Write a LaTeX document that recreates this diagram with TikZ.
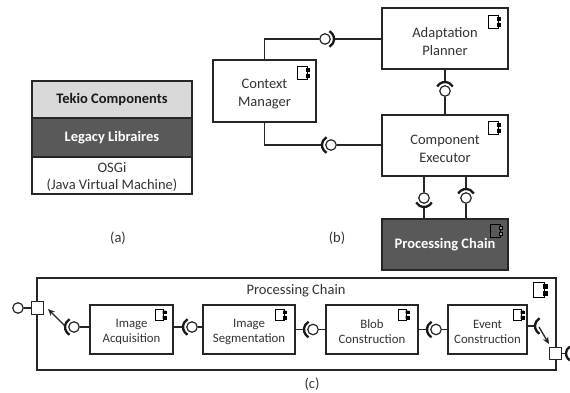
\documentclass[tikz,border=0pt]{standalone}
\usepackage{fontspec}
\usetikzlibrary{arrows.meta}
\setmainfont{Carlito}
\definecolor{darkbox}{HTML}{595959}
\definecolor{lightbox}{HTML}{D9D9D9}
\definecolor{inktext}{HTML}{333333}
\newcommand{\topgap}[1]{\rule{0pt}{#1pt}}
\tikzset{
  txt/.style={font=\fontsize{14.5}{17.5}\selectfont, text=inktext, align=center},
  smalltxt/.style={font=\fontsize{12.8}{15.7}\selectfont},
  boldtxt/.style={font=\fontsize{14.5}{17.5}\selectfont\bfseries},
  compbox/.style={txt, draw=black!85, line width=1.3pt, fill=white, inner sep=0pt},
  layerbox/.style={compbox, minimum width=160pt},
  stagebox/.style={compbox, smalltxt, minimum height=49pt},
  ball/.style={circle, draw=black!85, line width=1.2pt, fill=white, inner sep=0pt, minimum size=10.5pt},
  portbox/.style={draw=black!85, line width=1.2pt, fill=white, inner sep=0pt, minimum size=12.5pt},
  wire/.style={draw=black!85, line width=1.3pt},
  socket/.style={draw=black!90, line width=2.3pt},
  compicon/.pic={
    \draw [line width=1.1pt] (-4.8,-6.5) rectangle (4.8,6.5);
    \filldraw [line width=0.2pt, pic actions] (3.6,-4.8) rectangle (7,-1.6) (3.6,1) rectangle (7,4.2);
  },
}
\begin{document}
\begin{tikzpicture}[x=1pt,y=-1pt]
  \useasboundingbox (0,0) rectangle (570,393);
  % (a)
  \node [layerbox, fill=lightbox, minimum height=37pt, text=black!90, boldtxt] (tekio) at (112,99.5) {\raisebox{-2pt}{Tekio Components}};
  \node [layerbox, fill=darkbox, minimum height=39pt, text=white, boldtxt] (legacy) at (112,137.5) {\raisebox{-2pt}{Legacy Libraires}};
  \node [layerbox, minimum height=37pt] (osgi) at (112,175.5) {\topgap{13}OSGi\\(Java Virtual Machine)};
  \node [txt] (capa) at (118,238) {(a)};
  % (b)
  \node [compbox, minimum width=126pt, minimum height=61pt] (planner) at (445,38.5) {\topgap{16}Adaptation\\Planner};
  \node [compbox, minimum width=103pt, minimum height=62pt] (context) at (264.5,91) {\topgap{15.5}Context\\Manager};
  \node [compbox, minimum width=126pt, minimum height=61pt] (executor) at (445,145.5) {\topgap{16}Component\\Executor};
  \node [compbox, fill=darkbox, minimum width=126pt, minimum height=51pt, text=white, boldtxt] (chain) at (445,244.5) {\raisebox{-6pt}{Processing Chain}};
  \node [txt] (capb) at (337,238) {(b)};
  \pic at (493.5,22) {compicon};
  \pic at (302.5,73) {compicon};
  \pic at (493.5,128) {compicon};
  \pic [fill=darkbox!60!white] at (495.5,231) {compicon};

  \node [ball] (bcp) at (325,39) {};
  \coordinate (scp) at (334,39);
  \draw [wire] (context.north) |- (bcp);
  \draw [wire] (scp) -- (planner.west |- scp);
  \draw [socket] (bcp) ++(-60:9) arc (-60:60:9);

  \node [ball] (bce) at (331,145) {};
  \coordinate (sce) at (322,145);
  \draw [wire] (context.south) |- (sce);
  \draw [wire] (bce) -- (executor.west |- bce);
  \draw [socket] (bce) ++(120:9) arc (120:240:9);

  \node [ball] (bpe) at (445,91) {};
  \coordinate (spe) at (445,82);
  \draw [wire] (planner.south) -- (spe);
  \draw [wire] (bpe) -- (executor.north);
  \draw [socket] (bpe) ++(-150:9) arc (-150:-30:9);

  \node [ball] (bel) at (424,198) {};
  \coordinate (sel) at (424,207);
  \draw [wire] (bel) -- (bel |- executor.south);
  \draw [wire] (sel) -- (sel |- chain.north);
  \draw [socket] (bel) ++(30:9) arc (30:150:9);

  \node [ball] (ber) at (466,198) {};
  \coordinate (ser) at (466,189);
  \draw [wire] (ser) -- (ser |- executor.south);
  \draw [wire] (ber) -- (ber |- chain.north);
  \draw [socket] (ber) ++(-150:9) arc (-150:-30:9);

  % (c)
  \node [compbox, minimum width=519pt, minimum height=92pt] (outer) at (296.5,324) {};
  \node [txt] (outertitle) at (296,291) {Processing Chain};
  \node [txt] (capc) at (312,384) {(c)};
  \pic [scale=1.15] at (539,290) {compicon};

  \node [stagebox, minimum width=83pt] (acq) at (131.5,329.5) {\topgap{13}Image\\Acquisition};
  \node [stagebox, minimum width=92pt] (seg) at (249,329.5) {\topgap{13}Image\\Segmentation};
  \node [stagebox, minimum width=92pt] (blob) at (372,329.5) {\topgap{13}Blob\\Construction};
  \node [stagebox, minimum width=79pt] (event) at (487.5,329.5) {\topgap{13}Event\\Construction};
  \foreach \x in {159.5,280,402.5,517.5}
    \pic [scale=0.9] at (\x,315) {compicon};

  \node [portbox] (portin) at (37.5,308) {};
  \node [ball] (bin) at (18,308) {};
  \draw [wire] (bin) -- (portin);
  \node [portbox] (portout) at (555.5,353.5) {};
  \coordinate (sout) at (566,353.5);
  \draw [wire] (portout) -- (sout);
  \draw [socket] (sout) ++(8,0) ++(120:8) arc (120:240:8);

  \node [ball] (ba) at (74,327) {};
  \coordinate (sa) at (65,326);
  \coordinate (tipa) at (48,309);
  \draw [wire] (ba) -- (ba -| acq.west);
  \draw [socket] (ba) ++(120:9) arc (120:240:9);
  \draw [wire, -{Stealth[length=7pt,width=6pt]}] (sa) -- (tipa);

  \node [ball] (bb) at (192,327) {};
  \draw [wire] (acq.east |- bb) -- ++(9,0);
  \draw [wire] (bb) -- (bb -| seg.west);
  \draw [socket] (bb) ++(120:9) arc (120:240:9);

  \node [ball] (bc) at (313,329.5) {};
  \draw [wire] (seg.east) -- ++(9,0);
  \draw [wire] (bc) -- (blob.west);
  \draw [socket] (bc) ++(120:9) arc (120:240:9);

  \node [ball] (bd) at (436,329.5) {};
  \draw [wire] (blob.east) -- ++(9,0);
  \draw [wire] (bd) -- (event.west);
  \draw [socket] (bd) ++(120:9) arc (120:240:9);

  \coordinate (se) at (535,326);
  \coordinate (ste) at (539,327);
  \coordinate (tipe) at (549,344);
  \draw [wire] (se -| event.east) -- (se);
  \draw [socket] (544,326) ++(120:9) arc (120:240:9);
  \draw [wire, -{Stealth[length=7pt,width=6pt]}] (ste) -- (tipe);
\end{tikzpicture}
\end{document}
